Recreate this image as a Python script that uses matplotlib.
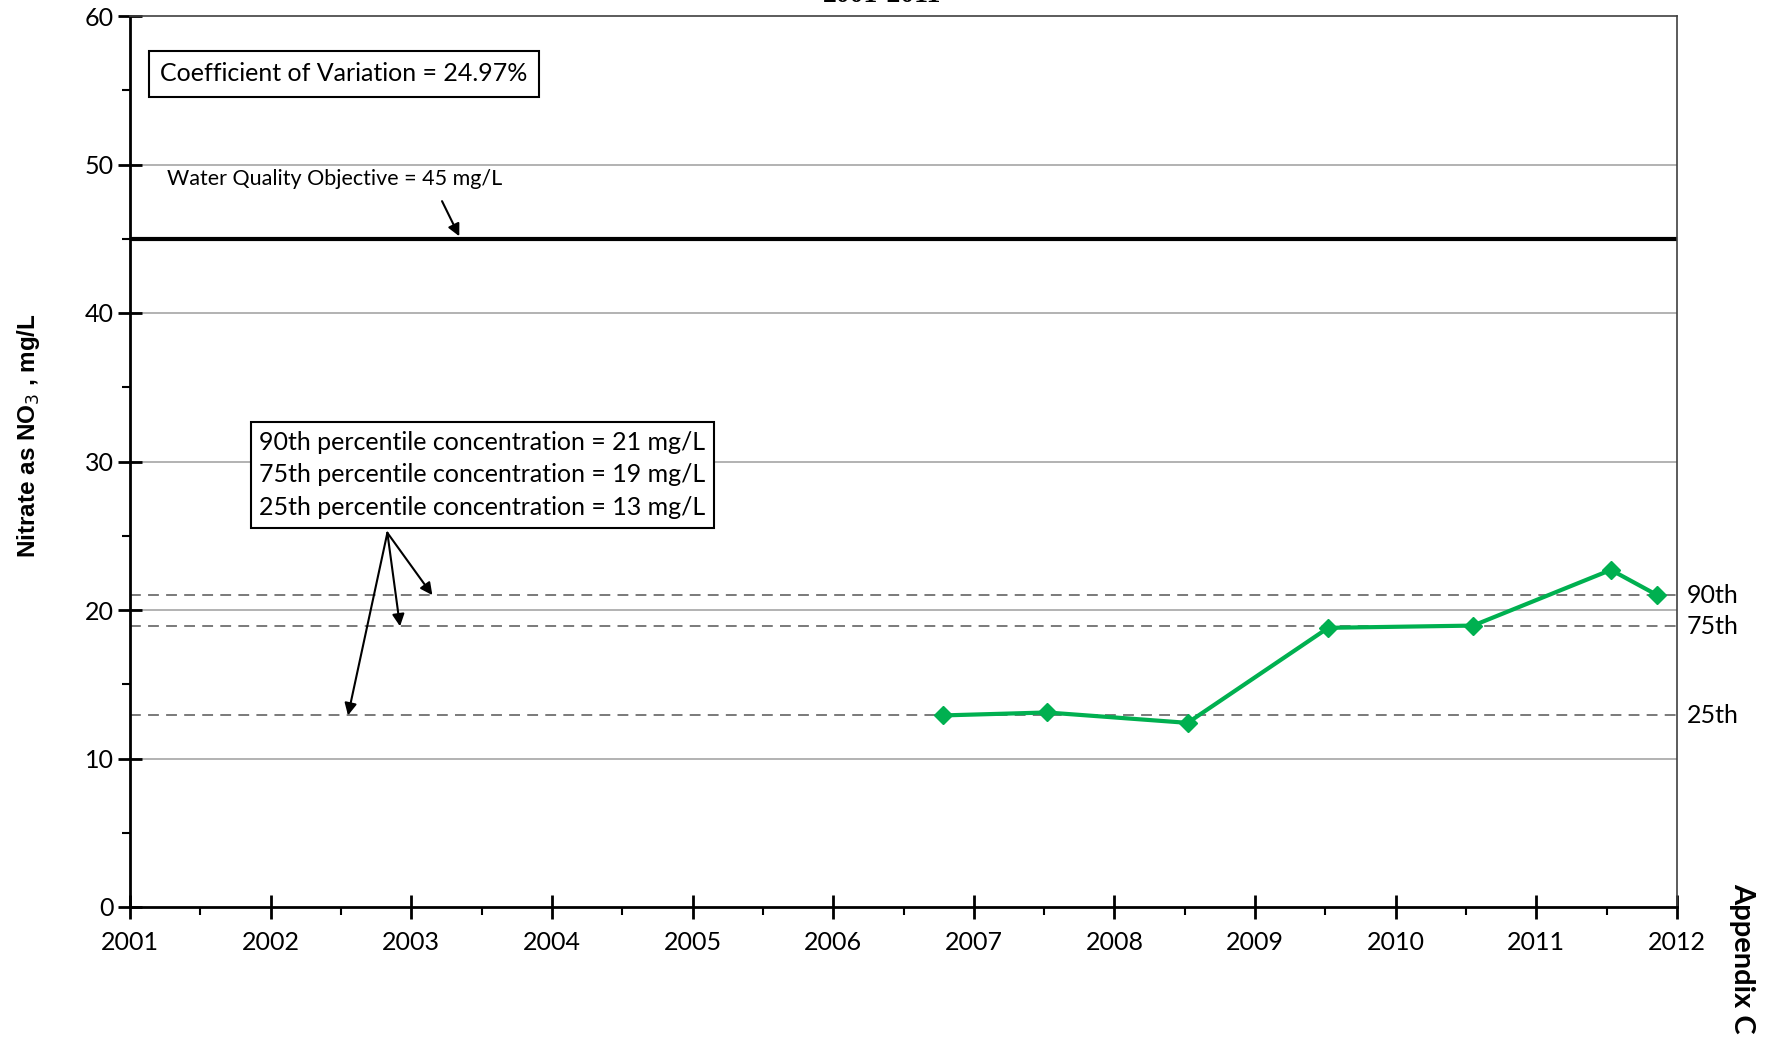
import numpy as np
import matplotlib
matplotlib.use("Agg")
import matplotlib.pyplot as plt
from matplotlib.ticker import MultipleLocator

plt.rcParams['font.family'] = ['Lato', 'DejaVu Sans']

# sample dates (decimal years) and nitrate values, mg/L
years = [2006.78, 2007.52, 2008.52, 2009.52, 2010.55, 2011.53, 2011.86]
nitrate = [12.9, 13.1, 12.4, 18.8, 18.95, 22.7, 21.0]

wqo = 45
pct_names = ['90th', '75th', '25th']
pct_values = [21.0, 18.9, 12.9]
pct_text = ["90th percentile concentration = 21 mg/L",
            "75th percentile concentration = 19 mg/L",
            "25th percentile concentration = 13 mg/L"]
cv_text = "Coefficient of Variation = 24.97%"

fig = plt.figure(figsize=(17.67, 10.37), dpi=100)
ax = fig.add_axes([130/1767, 1 - 907/1037, (1677-130)/1767, (907-16)/1037])

ax.set_xlim(2001, 2012)
ax.set_ylim(0, 60)
ax.xaxis.set_major_locator(MultipleLocator(1))
ax.xaxis.set_minor_locator(MultipleLocator(0.5))
ax.yaxis.set_major_locator(MultipleLocator(10))
ax.yaxis.set_minor_locator(MultipleLocator(5))
ax.tick_params(which='major', direction='inout', length=17, width=2, labelsize=18)
ax.tick_params(which='minor', direction='out', length=6, width=1.5)
ax.tick_params(axis='y', which='major', pad=3)
ax.tick_params(axis='x', which='major', pad=9)

for s in ['left', 'bottom']:
    ax.spines[s].set_linewidth(2)
for s in ['top', 'right']:
    ax.spines[s].set_linewidth(1.2)
    ax.spines[s].set_color('#404040')

for v in range(10, 60, 10):
    ax.axhline(v, color='#a6a6a6', lw=1.2, zorder=1)

ax.axhline(wqo, color='black', lw=3, zorder=2)
for v in pct_values:
    ax.axhline(v, color='#707070', lw=1.3, ls=(0, (6, 4)), zorder=2)

ax.plot(years, nitrate, color='#00B050', lw=3, marker='D', markersize=9, zorder=4)

# percentile labels right of the axes
for name, v in zip(pct_names, pct_values):
    ax.annotate(name, xy=(1, v), xycoords=('axes fraction', 'data'),
                xytext=(7, 0), textcoords='offset points', va='center', ha='left',
                fontsize=18, annotation_clip=False)

# coefficient of variation box
ax.text(2001.215, 56.1, cv_text, fontsize=18, va='center', ha='left',
        bbox=dict(boxstyle='square,pad=0.45', fc='white', ec='black', lw=1.5))

# water quality objective note
ax.text(2001.26, 49.0, "Water Quality Objective = 45 mg/L", fontsize=15.5, va='center', ha='left')
ax.annotate('', xy=(2003.35, wqo), xytext=(2003.21, 47.7),
            arrowprops=dict(arrowstyle='-|>', color='black', lw=1.5, mutation_scale=18))

# percentile box and arrows
ax.text(2001.92, 29.1, "\n".join(pct_text), fontsize=18, va='center', ha='left',
        linespacing=1.5,
        bbox=dict(boxstyle='square,pad=0.35', fc='white', ec='black', lw=1.5))
tail = (2002.83, 25.2)
for hx, v in zip([2003.15, 2002.92, 2002.55], pct_values):
    ax.annotate('', xy=(hx, v), xytext=tail,
                arrowprops=dict(arrowstyle='-|>', color='black', lw=1.5, mutation_scale=18,
                                shrinkA=0, shrinkB=0))

fig.text(28/1767, 1 - 436/1037, "Nitrate as NO$_3$ , mg/L", rotation=90,
         fontsize=17.5, fontweight='bold', ha='center', va='center', family='Liberation Sans')
fig.text(1742/1767, 1 - 958/1037, "Appendix C", rotation=-90, fontsize=21,
         fontweight='bold', ha='center', va='center')
fig.text(882/1767, 1 - 2/1037, "2001-2011", fontsize=20, fontweight='bold',
         ha='center', va='baseline', family='Liberation Serif')

fig.savefig('out.png', dpi=100)
